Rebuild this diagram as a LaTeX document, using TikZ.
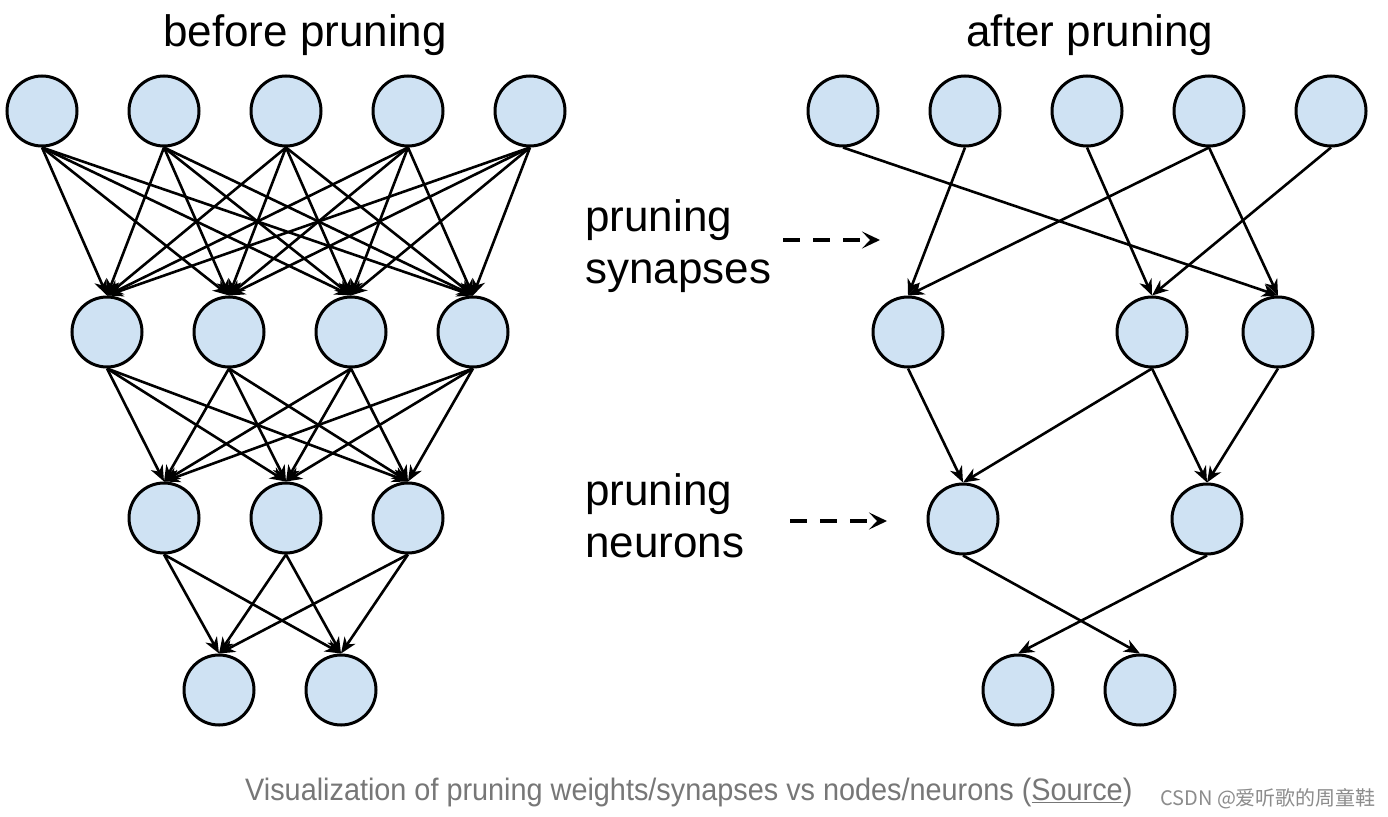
\documentclass[tikz,border=0pt]{standalone}
\usepackage{fontspec}
\setmainfont{Liberation Sans}
\newfontfamily\capfont[FakeStretch=0.93]{Liberation Sans}
\newfontfamily\cjk{Noto Sans CJK SC}
\usetikzlibrary{arrows.meta}
\definecolor{nfill}{HTML}{CFE2F3}
\definecolor{capgray}{HTML}{777777}
\definecolor{wmgray}{HTML}{8C8C8C}
\begin{document}
\begin{tikzpicture}[x=1pt,y=-1pt,
  neuron/.style={circle,draw=black,fill=nfill,line width=3pt,minimum size=70pt,inner sep=0pt},
  syn/.style={line width=2.6pt,-{Stealth[length=16pt,width=13pt,inset=5pt]}},
  dasharrow/.style={line width=3.5pt,dash pattern=on 17pt off 13pt,-{Stealth[length=18pt,width=17pt,inset=8pt]}},
  titletext/.style={font=\fontsize{44}{52}\selectfont,anchor=base,inner sep=0pt},
  lbl/.style={font=\fontsize{44}{52}\selectfont,anchor=base west,inner sep=0pt}]
\useasboundingbox[fill=white] (0,0) rectangle (1388,816);

% titles
\node[titletext] (tbefore) at (305,47) {before pruning};
\node[titletext] (tafter) at (1090,47) {after pruning};

% left network
\foreach \i in {1,...,5} \node[neuron] (la\i) at ({42+122*(\i-1)},111) {};
\foreach \i in {1,...,4} \node[neuron] (lb\i) at ({107+122*(\i-1)},332) {};
\foreach \i in {1,...,3} \node[neuron] (lc\i) at ({164+122*(\i-1)},518) {};
\foreach \i in {1,...,2} \node[neuron] (ld\i) at ({219+122*(\i-1)},690) {};

\foreach \i in {1,...,5} \foreach \j in {1,...,4} \draw[syn] (la\i.south) -- (lb\j.north);
\foreach \i in {1,...,4} \foreach \j in {1,...,3} \draw[syn] (lb\i.south) -- (lc\j.north);
\foreach \i in {1,...,3} \foreach \j in {1,...,2} \draw[syn] (lc\i.south) -- (ld\j.north);

% right network
\foreach \i in {1,...,5} \node[neuron] (ra\i) at ({843+122*(\i-1)},111) {};
\node[neuron] (rb1) at (908,332) {};
\node[neuron] (rb3) at (1152,332) {};
\node[neuron] (rb4) at (1278,332) {};
\node[neuron] (rc1) at (963,519) {};
\node[neuron] (rc3) at (1207,519) {};
\node[neuron] (rd1) at (1018,690) {};
\node[neuron] (rd2) at (1140,690) {};

\draw[syn] (ra1.south) -- (rb4.north);
\draw[syn] (ra2.south) -- (rb1.north);
\draw[syn] (ra3.south) -- (rb3.north);
\draw[syn] (ra4.south) -- (rb1.north);
\draw[syn] (ra4.south) -- (rb4.north);
\draw[syn] (ra5.south) -- (rb3.north);
\draw[syn] (rb1.south) -- (rc1.north);
\draw[syn] (rb3.south) -- (rc1.north);
\draw[syn] (rb3.south) -- (rc3.north);
\draw[syn] (rb4.south) -- (rc3.north);
\draw[syn] (rc1.south) -- (rd2.north);
\draw[syn] (rc3.south) -- (rd1.north);

% middle labels
\node[lbl] (l1a) at (585,231) {pruning};
\node[lbl] (l1b) at (585,283) {synapses};
\node[lbl] (l2a) at (585,505) {pruning};
\node[lbl] (l2b) at (585,557) {neurons};

\coordinate (d1s) at (783,240);
\coordinate (d1e) at (880,240);
\coordinate (d2s) at (790,521);
\coordinate (d2e) at (887,521);
\draw[dasharrow] (d1s) -- (d1e);
\draw[dasharrow] (d2s) -- (d2e);

% caption
\node[anchor=base west,inner sep=0pt,text=capgray,font=\capfont\fontsize{31}{36}\selectfont] (cap) at (245,800)
  {Visualization of pruning weights/synapses vs nodes/neurons (\underline{Source})};
\node[anchor=base west,inner sep=0pt,text=wmgray,font=\cjk\fontsize{20}{24}\selectfont] (wm) at (1160,805)
  {CSDN @爱听歌的周童鞋};
\end{tikzpicture}
\end{document}
